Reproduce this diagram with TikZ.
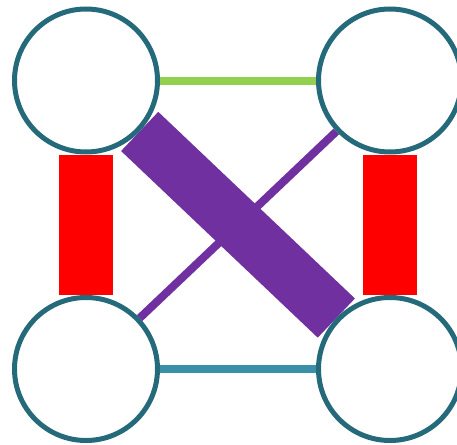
\documentclass[tikz,border=0pt]{standalone}
\usepackage{tikz}
\usetikzlibrary{backgrounds}
\definecolor{rand}{HTML}{256A7A}
\definecolor{gruen}{HTML}{92D050}
\definecolor{blau}{HTML}{3A90A8}
\definecolor{rot}{HTML}{FF0000}
\definecolor{lila}{HTML}{7030A0}
\tikzset{
  knoten/.style={circle,draw=rand,fill=white,line width=5pt,minimum size=143pt,inner sep=0pt},
  duenn/.style={line width=8pt,line cap=butt},
  dick/.style={line width=54pt,line cap=butt},
}

\begin{document}
\begin{tikzpicture}[x=1pt,y=-1pt]
  \useasboundingbox (0,0) rectangle (457,444);
  \node[knoten] (ol) at (86,80.5) {};
  \node[knoten] (or) at (390,80.5) {};
  \node[knoten] (ul) at (86,369) {};
  \node[knoten] (ur) at (390,369) {};
  \begin{pgfonlayer}{background}
    \draw[duenn,gruen] (ol) -- (or);
    \draw[duenn,blau] (ul) -- (ur);
    \draw[dick,rot] (ol) -- (ul);
    \draw[dick,rot] (or) -- (ur);
    \draw[dick,lila] (ol) -- (ur);
    \draw[duenn,lila] (or) -- (ul);
  \end{pgfonlayer}
\end{tikzpicture}
\end{document}
